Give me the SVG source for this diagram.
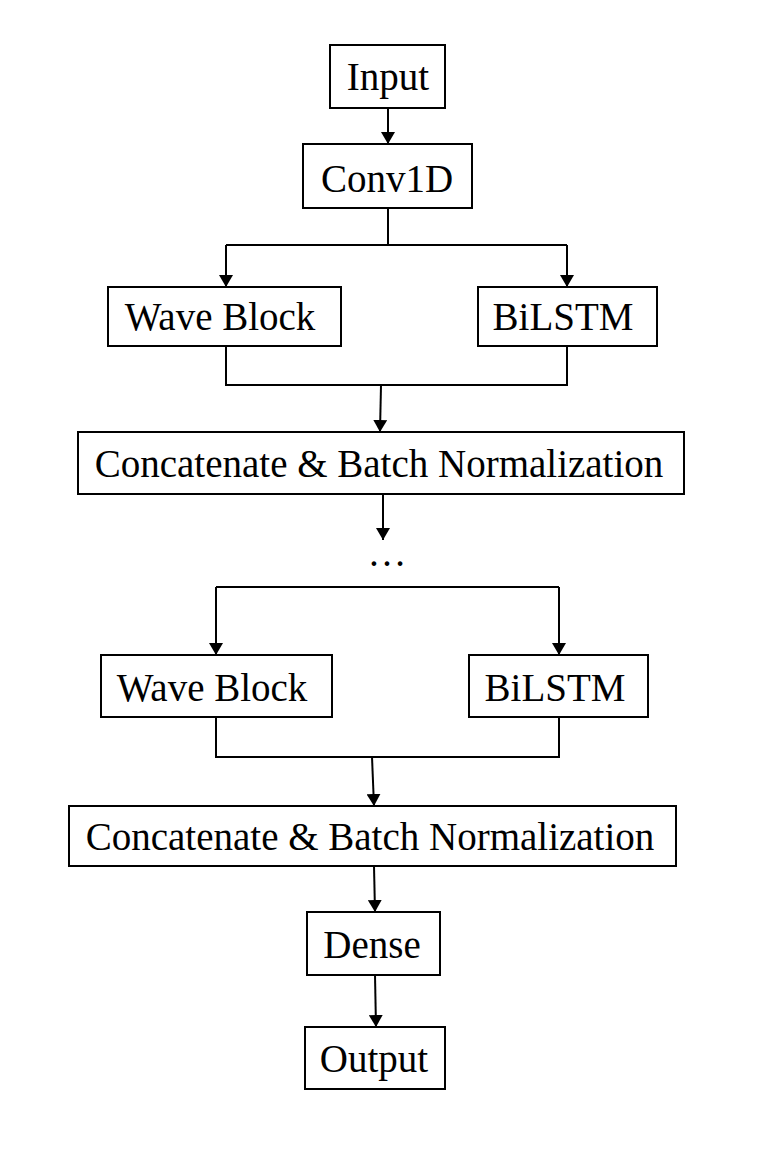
<svg xmlns="http://www.w3.org/2000/svg" width="778" height="1152" viewBox="0 0 778 1152">
<style>
.box{fill:#fff;stroke:#000;stroke-width:2}
.lbl{font-family:"Liberation Serif","Times New Roman",serif;font-size:39px;fill:#000;text-anchor:middle}
.ln{fill:none;stroke:#000;stroke-width:2}
.ar{fill:none;stroke:#000;stroke-width:2;marker-end:url(#ah)}
</style>
<defs>
<marker id="ah" markerWidth="12" markerHeight="14" refX="12" refY="7" orient="auto" markerUnits="userSpaceOnUse" viewBox="0 0 12 14">
<path d="M0,0 L12,7 L0,14 Z" fill="#000"/>
</marker>
</defs>
<rect width="778" height="1152" fill="#fff"/>
<g id="connectors">
<path class="ar" d="M388,108 L388,144"/>
<path class="ln" d="M388,208 L388,245 M226,245 L567,245"/>
<path class="ar" d="M226,245 L226,287"/>
<path class="ar" d="M567,245 L567,287"/>
<path class="ln" d="M226,346 L226,385 L567,385 L567,346"/>
<path class="ar" d="M381,385 L380,432"/>
<path class="ar" d="M383,494 L383,540"/>
<path class="ln" d="M216,587 L559,587"/>
<path class="ar" d="M216,587 L216,655"/>
<path class="ar" d="M559,587 L559,655"/>
<path class="ln" d="M216,717 L216,757 L559,757 L559,717"/>
<path class="ar" d="M372,757 L374,806"/>
<path class="ar" d="M374,866 L375,912"/>
<path class="ar" d="M375,975 L376,1027"/>
</g>
<g id="input"><rect class="box" x="330" y="45" width="115" height="63"/><text class="lbl" x="388" y="90">Input</text></g>
<g id="conv1d"><rect class="box" x="303" y="144" width="169" height="64"/><text class="lbl" x="387" y="192">Conv1D</text></g>
<g id="wave1"><rect class="box" x="108" y="287" width="233" height="59"/><text class="lbl" x="220" y="330">Wave Block</text></g>
<g id="bilstm1"><rect class="box" x="478" y="287" width="179" height="59"/><text class="lbl" x="563" y="330">BiLSTM</text></g>
<g id="concat1"><rect class="box" x="78" y="432" width="606" height="62"/><text class="lbl" x="379" y="477">Concatenate &amp; Batch Normalization</text></g>
<g id="dots"><text class="lbl" x="387" y="566">…</text></g>
<g id="wave2"><rect class="box" x="101" y="655" width="231" height="62"/><text class="lbl" x="212" y="701">Wave Block</text></g>
<g id="bilstm2"><rect class="box" x="469" y="655" width="179" height="62"/><text class="lbl" x="555" y="701">BiLSTM</text></g>
<g id="concat2"><rect class="box" x="69" y="806" width="607" height="60"/><text class="lbl" x="370" y="850">Concatenate &amp; Batch Normalization</text></g>
<g id="dense"><rect class="box" x="307" y="912" width="133" height="63"/><text class="lbl" x="372" y="958">Dense</text></g>
<g id="output"><rect class="box" x="305" y="1027" width="140" height="62"/><text class="lbl" x="374" y="1072">Output</text></g>
</svg>
